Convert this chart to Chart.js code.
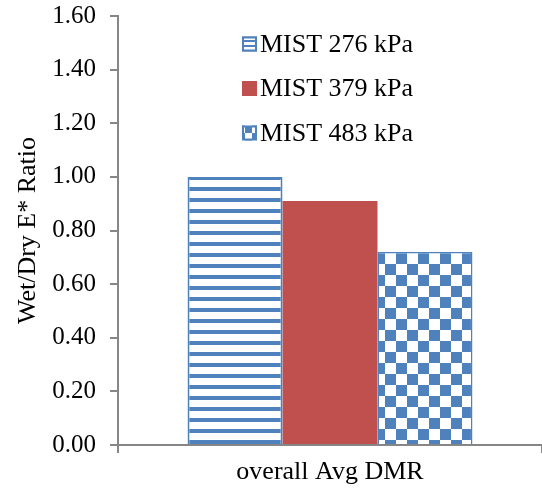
<!DOCTYPE html>
<html>
<head>
<meta charset="utf-8">
<script src="https://cdn.jsdelivr.net/npm/chart.js@4/dist/chart.umd.min.js"></script>
<style>
html,body{margin:0;padding:0;background:#fff;}
#wrap{width:542px;height:492px;position:relative;}
</style>
</head>
<body>
<div id="wrap"><canvas id="c" width="542" height="492"></canvas></div>
<script>
const categories = ["overall Avg DMR"];
const seriesNames = ["MIST 276 kPa", "MIST 379 kPa", "MIST 483 kPa"];
const mist276 = [1.00];
const mist379 = [0.91];
const mist483 = [0.72];
const yTicks = [0, 0.2, 0.4, 0.6, 0.8, 1.0, 1.2, 1.4, 1.6];

const BLUE = '#4F81BD';
const RED = '#C0504D';
const AXIS = '#868686';
const FONT = "'Liberation Serif', 'Times New Roman', serif";

function stripePattern(period, band) {
  const c = document.createElement('canvas');
  c.width = period; c.height = period;
  const x = c.getContext('2d');
  x.fillStyle = '#fff'; x.fillRect(0, 0, period, period);
  x.fillStyle = BLUE; x.fillRect(0, 0, period, band);
  return document.getElementById('c').getContext('2d').createPattern(c, 'repeat');
}
function checkerPattern(sz) {
  const c = document.createElement('canvas');
  c.width = sz * 2; c.height = sz * 2;
  const x = c.getContext('2d');
  x.fillStyle = '#fff'; x.fillRect(0, 0, sz * 2, sz * 2);
  x.fillStyle = BLUE; x.fillRect(sz, 0, sz, sz); x.fillRect(0, sz, sz, sz);
  return document.getElementById('c').getContext('2d').createPattern(c, 'repeat');
}
const stripes = stripePattern(11, 4);
const checker = checkerPattern(11);
const stripesSmall = stripePattern(5, 2);
const checkerSmall = checkerPattern(7);

const legendFills = [stripesSmall, RED, checkerSmall];

const insideLegend = {
  id: 'insideLegend',
  afterDatasetsDraw(chart) {
    const ctx = chart.ctx;
    ctx.save();
    ctx.font = '26px ' + FONT;
    ctx.textBaseline = 'middle';
    ctx.textAlign = 'left';
    chart.data.datasets.forEach((ds, i) => {
      const cy = 44 + i * 44.5;
      const bx = 242, bs = 15;
      ctx.fillStyle = legendFills[i];
      ctx.fillRect(bx, cy - bs / 2, bs, bs);
      if (i !== 1) {
        ctx.strokeStyle = BLUE; ctx.lineWidth = 2;
        ctx.strokeRect(bx + 1, cy - bs / 2 + 1, bs - 2, bs - 2);
      }
      ctx.fillStyle = '#000';
      ctx.fillText(ds.label, 260, cy + 1);
    });
    ctx.restore();
  }
};

new Chart(document.getElementById('c'), {
  type: 'bar',
  data: {
    labels: categories,
    datasets: [
      { label: seriesNames[0], data: mist276, backgroundColor: stripes, borderColor: BLUE, borderWidth: 2 },
      { label: seriesNames[1], data: mist379, backgroundColor: RED, borderWidth: 0 },
      { label: seriesNames[2], data: mist483, backgroundColor: checker, borderColor: BLUE, borderWidth: 1.5 }
    ]
  },
  options: {
    responsive: false,
    animation: false,
    devicePixelRatio: 1,
    layout: { padding: { top: 0, right: 0, left: 0, bottom: 0 } },
    datasets: { bar: { categoryPercentage: 0.672, barPercentage: 1.0 } },
    plugins: { legend: { display: false }, tooltip: { enabled: false } },
    scales: {
      x: {
        grid: { display: true, drawOnChartArea: false, drawTicks: true, tickLength: 8, color: AXIS, lineWidth: 2, offset: true },
        border: { display: true, color: AXIS, width: 2 },
        ticks: { color: '#000', font: { family: FONT, size: 26 }, padding: 4 },
        afterFit(s) { s.height = 47; s.paddingLeft = 0; s.paddingRight = 0; }
      },
      y: {
        min: 0, max: 1.6,
        afterBuildTicks(s) { s.ticks = yTicks.map(v => ({ value: v })); },
        grid: { display: true, drawOnChartArea: false, drawTicks: true, tickLength: 8, color: AXIS, lineWidth: 2 },
        border: { display: true, color: AXIS, width: 2 },
        ticks: { color: '#000', font: { family: FONT, size: 25 }, padding: 14, callback: v => Number(v).toFixed(2) },
        title: { display: true, text: 'Wet/Dry E* Ratio', color: '#000', font: { family: FONT, size: 26 }, padding: { top: 13, bottom: 0 } },
        afterFit(s) { s.width = 118; s.paddingTop = 16; s.paddingBottom = 0; }
      }
    }
  },
  plugins: [insideLegend]
});
</script>
</body>
</html>
